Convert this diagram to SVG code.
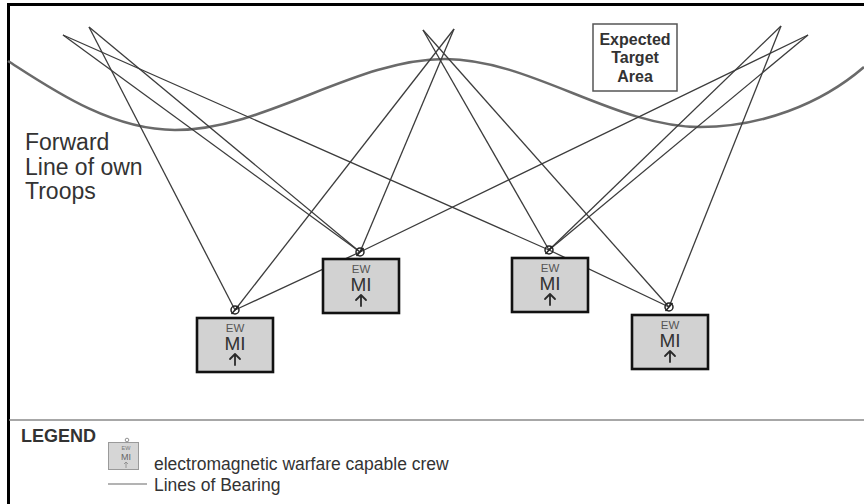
<svg xmlns="http://www.w3.org/2000/svg" width="864" height="504" viewBox="0 0 864 504">
  <defs>
    <style>
      .frame { stroke: #000; stroke-width: 3; fill: none; }
      .sep { stroke: #8a8a8a; stroke-width: 1.5; fill: none; }
      .flot { stroke: #6a6a6a; stroke-width: 2.6; fill: none; }
      .lob { stroke: #3c3c3c; stroke-width: 1.3; fill: none; }
      .box { fill: #d2d2d2; stroke: #111; stroke-width: 2.6; }
      .ant { fill: none; stroke: #222; stroke-width: 1.5; }
      .arrow { fill: none; stroke: #2a2a2a; stroke-width: 1.8; stroke-linecap: round; stroke-linejoin: round; }
      .ew { font-family: "Liberation Sans", Arial, sans-serif; font-size: 11.5px; fill: #555; text-anchor: middle; }
      .mi { font-family: "Liberation Sans", Arial, sans-serif; font-size: 19px; fill: #333; text-anchor: middle; }
      .lbl { font-family: "Liberation Sans", Arial, sans-serif; fill: #333; }
      .bold { font-weight: bold; }
    </style>
    <!-- crew symbol: box with EW / MI labels and arrow -->
    <g id="crew">
      <rect class="box" x="-38" y="0" width="76" height="54"/>
      <text class="ew" x="0" y="14">EW</text>
      <text class="mi" x="0" y="31.5">MI</text>
      <path class="arrow" d="M0,47 V36 M-5,41 L0,36 L5,41"/>
    </g>
  </defs>

  <rect width="864" height="504" fill="#fff"/>

  <!-- frame and legend separator -->
  <path class="frame" d="M8.5,504 V4.5 H864"/>
  <line class="sep" x1="9" y1="420" x2="864" y2="420"/>

  <!-- forward line of own troops -->
  <path class="flot" d="M8,61 C50,88 110,130 175,130 C265,130 355,59 445,59 C530,59 615,127 700,127 C760,127 820,105 864,67"/>

  <!-- lines of bearing -->
  <g id="connectors">
    <line class="lob" x1="63" y1="35" x2="360" y2="252"/>
    <polyline class="lob" points="63,35 549,250 669,307"/>
    <line class="lob" x1="89" y1="27" x2="235" y2="310"/>
    <line class="lob" x1="89" y1="27" x2="360" y2="252"/>
    <line class="lob" x1="423" y1="30" x2="549" y2="250"/>
    <line class="lob" x1="423" y1="30" x2="669" y2="307"/>
    <line class="lob" x1="454" y1="29" x2="235" y2="310"/>
    <line class="lob" x1="454" y1="29" x2="360" y2="252"/>
    <line class="lob" x1="781" y1="26" x2="669" y2="307"/>
    <line class="lob" x1="781" y1="26" x2="549" y2="250"/>
    <line class="lob" x1="808" y1="35" x2="549" y2="250"/>
    <polyline class="lob" points="808,35 360,252 235,310"/>
  </g>

  <!-- crews -->
  <g id="crew1">
    <circle class="ant" cx="235" cy="310" r="4"/>
    <line class="ant" x1="231.5" y1="314" x2="238.5" y2="306"/>
    <use href="#crew" x="235" y="318"/>
  </g>
  <g id="crew2">
    <circle class="ant" cx="360" cy="252" r="4"/>
    <line class="ant" x1="356.5" y1="256" x2="363.5" y2="248"/>
    <use href="#crew" x="361" y="259"/>
  </g>
  <g id="crew3">
    <circle class="ant" cx="549" cy="250" r="4"/>
    <line class="ant" x1="545.5" y1="254" x2="552.5" y2="246"/>
    <use href="#crew" x="550" y="258"/>
  </g>
  <g id="crew4">
    <circle class="ant" cx="669" cy="307" r="4"/>
    <line class="ant" x1="665.5" y1="311" x2="672.5" y2="303"/>
    <use href="#crew" x="670" y="315"/>
  </g>

  <!-- labels -->
  <g id="flot-label" class="lbl" font-size="23">
    <text x="25" y="150">Forward</text>
    <text x="25" y="174.5">Line of own</text>
    <text x="25" y="199">Troops</text>
  </g>
  <g id="target-area">
    <rect x="593" y="24" width="84" height="67" fill="#fff" stroke="#555" stroke-width="1.5"/>
    <g class="lbl bold" font-size="16" text-anchor="middle">
      <text x="635" y="45">Expected</text>
      <text x="635" y="63">Target</text>
      <text x="635" y="82">Area</text>
    </g>
  </g>

  <!-- legend -->
  <g id="legend">
    <text class="lbl bold" x="21" y="442" font-size="18">LEGEND</text>
    <rect x="108.5" y="442.5" width="30" height="27" fill="#d6d6d6" stroke="#9a9a9a" stroke-width="1"/>
    <circle cx="127" cy="440" r="1.8" fill="none" stroke="#777" stroke-width="0.8"/>
    <text x="126" y="450" font-family="Liberation Sans, Arial, sans-serif" font-size="5.5" fill="#777" text-anchor="middle">EW</text>
    <text x="126" y="460" font-family="Liberation Sans, Arial, sans-serif" font-size="9" fill="#666" text-anchor="middle">MI</text>
    <path d="M126,468 V462 M124,464 L126,462 L128,464" fill="none" stroke="#888" stroke-width="0.8"/>
    <text class="lbl" x="154" y="470" font-size="17.5">electromagnetic warfare capable crew</text>
    <line x1="108" y1="484" x2="147" y2="484" stroke="#b3b3b3" stroke-width="2"/>
    <text class="lbl" x="154" y="491" font-size="17.5">Lines of Bearing</text>
  </g>
</svg>
